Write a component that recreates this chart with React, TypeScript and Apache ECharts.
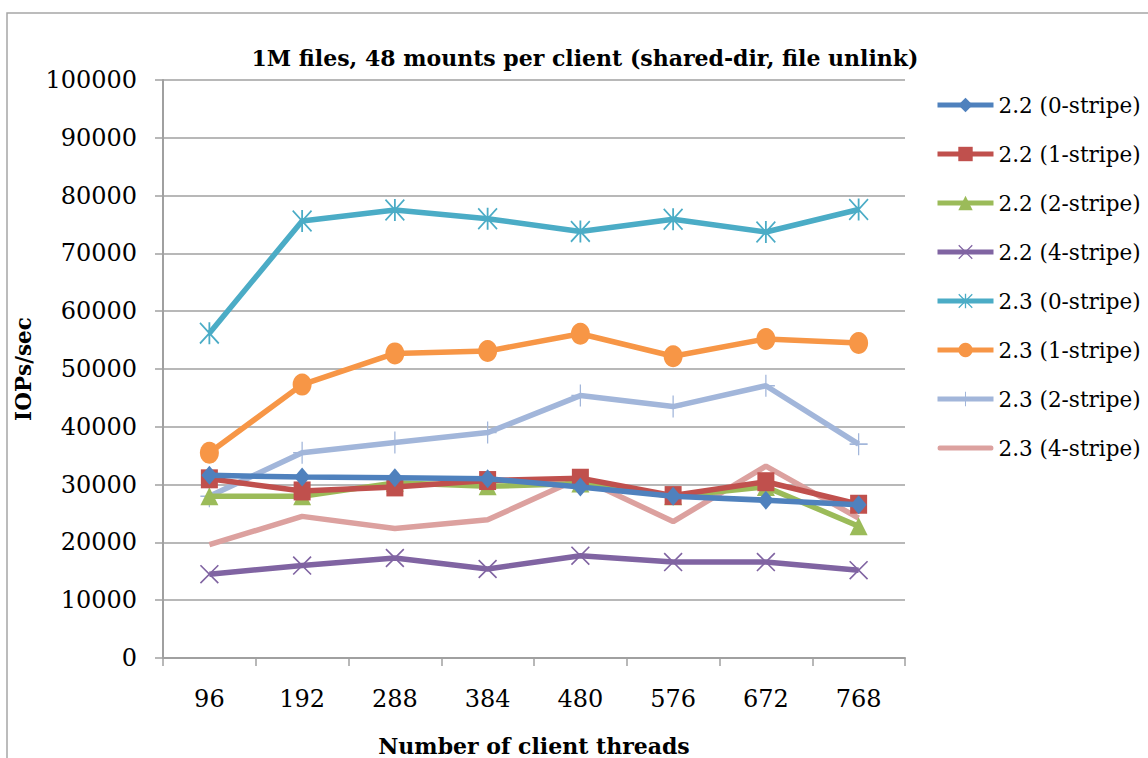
import React, { useEffect, useRef } from "react";
import * as echarts from "echarts";

const categories = ["96", "192", "288", "384", "480", "576", "672", "768"];
const yTicks = [0, 10000, 20000, 30000, 40000, 50000, 60000, 70000, 80000, 90000, 100000];

const s22_0 = [31600, 31300, 31200, 31000, 29600, 28000, 27300, 26500];
const s22_1 = [31000, 28900, 29600, 30700, 31100, 28100, 30500, 26600];
const s22_2 = [28000, 28000, 30300, 29700, 30200, 28000, 29600, 22800];
const s22_4 = [14500, 16000, 17300, 15400, 17700, 16600, 16600, 15200];
const s23_0 = [56200, 75600, 77500, 76000, 73800, 75900, 73700, 77600];
const s23_1 = [35500, 47300, 52700, 53100, 56100, 52200, 55200, 54500];
const s23_2 = [28000, 35500, 37300, 39000, 45400, 43500, 47100, 37000];
const s23_4 = [19600, 24500, 22400, 23900, 31200, 23600, 33200, 24200];

const names = [
  "2.2 (0-stripe)",
  "2.2 (1-stripe)",
  "2.2 (2-stripe)",
  "2.2 (4-stripe)",
  "2.3 (0-stripe)",
  "2.3 (1-stripe)",
  "2.3 (2-stripe)",
  "2.3 (4-stripe)",
];
const colors = ["#4F81BD", "#C0504D", "#9BBB59", "#8064A2", "#4BACC6", "#F79646", "#A2B6DA", "#DCA19F"];

const X_SYM = "path://M0,1.2L1.2,0L20,18.8L18.8,20ZM18.8,0L20,1.2L1.2,20L0,18.8Z";
const STAR_SYM = "path://M0,1.2L1.2,0L20,18.8L18.8,20ZM18.8,0L20,1.2L1.2,20L0,18.8ZM9.1,0L10.9,0L10.9,20L9.1,20Z";
const PLUS_SYM = "path://M9.3,0L10.7,0L10.7,20L9.3,20ZM0,9.3L20,9.3L20,10.7L0,10.7Z";
const BAR_ICON = "path://M2,0L54,0Q56,0 56,2.5Q56,5 54,5L2,5Q0,5 0,2.5Q0,0 2,0Z";

const FONT = "DejaVu Serif";

export default function App() {
  const ref = useRef<HTMLDivElement>(null);
  useEffect(() => {
    if (!ref.current) return;
    const chart = echarts.init(ref.current, undefined, { renderer: "svg" });
    const data = [s22_0, s22_1, s22_2, s22_4, s23_0, s23_1, s23_2, s23_4];
    const symbols: any[] = ["diamond", "rect", "triangle", X_SYM, STAR_SYM, "circle", PLUS_SYM, "none"];
    const sizes: any[] = [[16, 19], [17, 19], [18, 18], [19, 19], [20, 22], [19, 22], [18, 22], 0];
    chart.setOption({
      animation: false,
      backgroundColor: "#ffffff",
      color: colors,
      title: {
        text: "1M files, 48 mounts per client (shared-dir, file unlink)",
        left: 580,
        top: 42,
        textAlign: "center",
        textStyle: { fontFamily: FONT, fontWeight: "bold", fontSize: 22, color: "#000" },
      },
      legend: {
        orient: "vertical",
        left: 930,
        top: 89,
        itemWidth: 56,
        itemHeight: 18,
        itemGap: 27,
        lineStyle: { width: 5 },
        textStyle: { fontFamily: FONT, fontSize: 21.5, color: "#000" },
        data: names.map((n, i) =>
          symbols[i] === "none" ? { name: n, icon: BAR_ICON, itemStyle: { color: colors[i] } } : n
        ),
      },
      graphic: [
        {
          type: "rect",
          shape: { x: 7, y: 13, width: 1300, height: 900 },
          style: { fill: "none", stroke: "#A6A6A6", lineWidth: 1.5 },
          silent: true,
        },
      ],
      grid: {
        left: 163,
        right: 243,
        top: 80,
        height: 578,
        containLabel: false,
        outerBoundsMode: "none",
      },
      xAxis: {
        type: "category",
        data: categories,
        boundaryGap: true,
        name: "Number of client threads",
        nameLocation: "middle",
        nameGap: 77,
        nameTextStyle: { fontFamily: FONT, fontWeight: "bold", fontSize: 22, color: "#000" },
        axisLine: { lineStyle: { color: "#A0A0A0", width: 2 } },
        axisTick: { show: true, alignWithLabel: false, length: 8, lineStyle: { color: "#A0A0A0", width: 1.5 } },
        axisLabel: { fontFamily: FONT, fontSize: 24, color: "#000", margin: 29 },
      },
      yAxis: {
        type: "value",
        min: 0,
        max: 100000,
        interval: 10000,
        name: "IOPs/sec",
        nameLocation: "middle",
        nameRotate: 90,
        nameGap: 125,
        nameTextStyle: { fontFamily: FONT, fontWeight: "bold", fontSize: 21.5, color: "#000" },
        axisLine: { show: true, lineStyle: { color: "#A0A0A0", width: 2 } },
        axisTick: { show: true, length: 8, lineStyle: { color: "#A0A0A0", width: 1.5 } },
        splitLine: { show: true, lineStyle: { color: "#A0A0A0", width: 1.5 } },
        axisLabel: {
          fontFamily: FONT,
          fontSize: 24,
          color: "#000",
          margin: 26,
          formatter: (v: number) => (yTicks.includes(v) ? String(v) : ""),
        },
      },
      series: names.map((n, i) => ({
        name: n,
        type: "line",
        data: data[i],
        symbol: symbols[i],
        symbolSize: sizes[i],
        showSymbol: symbols[i] !== "none",
        lineStyle: { width: 5.5, color: colors[i] },
        itemStyle: { color: colors[i], borderWidth: 0 },
        z: 10 - i,
      })),
    });
    return () => chart.dispose();
  }, []);
  return (
    <div
      ref={ref}
      style={{ position: "fixed", left: 0, top: 0, width: 1148, height: 758 }}
    />
  );
}
